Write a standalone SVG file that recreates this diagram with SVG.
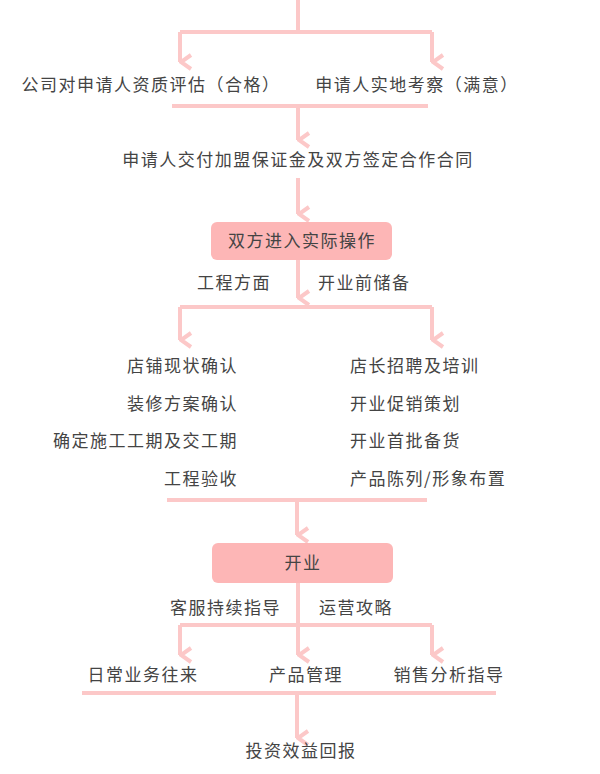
<svg xmlns="http://www.w3.org/2000/svg" width="600" height="774" viewBox="0 0 600 774">
<style>
text{font-family:"Noto Sans CJK SC","Liberation Sans",sans-serif;font-size:17px;letter-spacing:1.5px;fill:#444}
.c{text-anchor:middle}.r{text-anchor:end}
.l{stroke:#fcc8c8;stroke-width:4;fill:none}
.box{fill:#fdb6b6}
</style>
<defs><marker id="a" viewBox="0 0 18 14" refX="9" refY="13" markerWidth="18" markerHeight="14" markerUnits="userSpaceOnUse" orient="auto"><path d="M2 2 L9 12 L16 2" fill="none" stroke="#fcc8c8" stroke-width="4"/></marker></defs>
<g id="connectors" class="l">
<path d="M298 0V32M180 32H432"/>
<path d="M180 32V62" marker-end="url(#a)"/>
<path d="M432 32V62" marker-end="url(#a)"/>
<path d="M172 106H428"/>
<path d="M298 106V140" marker-end="url(#a)"/>
<path d="M298 178V214" marker-end="url(#a)"/>
<path d="M298 260V298" marker-end="url(#a)"/>
<path d="M180 307H432"/>
<path d="M180 307V340" marker-end="url(#a)"/>
<path d="M432 307V340" marker-end="url(#a)"/>
<path d="M167 500H427"/>
<path d="M297 500V535" marker-end="url(#a)"/>
<path d="M298 583V625M180 625H432"/>
<path d="M180 625V655" marker-end="url(#a)"/>
<path d="M298 625V655" marker-end="url(#a)"/>
<path d="M432 625V655" marker-end="url(#a)"/>
<path d="M82 693H496"/>
<path d="M297 693V738" marker-end="url(#a)"/>
</g>
<g id="n1"><text class="c" x="151" y="91">公司对申请人资质评估（合格）</text></g>
<g id="n2"><text class="c" x="417" y="91">申请人实地考察（满意）</text></g>
<g id="n3"><text class="c" x="298" y="166">申请人交付加盟保证金及双方签定合作合同</text></g>
<g id="n4"><rect class="box" x="211" y="222" width="181" height="38" rx="6"/><text class="c" x="302" y="247">双方进入实际操作</text></g>
<g id="n5"><text class="r" x="271" y="289">工程方面</text><text x="318" y="289">开业前储备</text></g>
<g id="n6">
<text class="r" x="238" y="372">店铺现状确认</text>
<text class="r" x="238" y="410">装修方案确认</text>
<text class="r" x="238" y="447">确定施工工期及交工期</text>
<text class="r" x="238" y="485">工程验收</text>
</g>
<g id="n7">
<text x="350" y="372">店长招聘及培训</text>
<text x="350" y="410">开业促销策划</text>
<text x="350" y="447">开业首批备货</text>
<text x="350" y="485">产品陈列/形象布置</text>
</g>
<g id="n8"><rect class="box" x="212" y="543" width="181" height="40" rx="6"/><text class="c" x="303" y="569">开业</text></g>
<g id="n9"><text class="r" x="281" y="614">客服持续指导</text><text x="319" y="614">运营攻略</text></g>
<g id="n10"><text class="c" x="143" y="681">日常业务往来</text></g>
<g id="n11"><text class="c" x="306" y="681">产品管理</text></g>
<g id="n12"><text class="c" x="449" y="681">销售分析指导</text></g>
<g id="n13"><text class="c" x="301" y="757">投资效益回报</text></g>
</svg>
